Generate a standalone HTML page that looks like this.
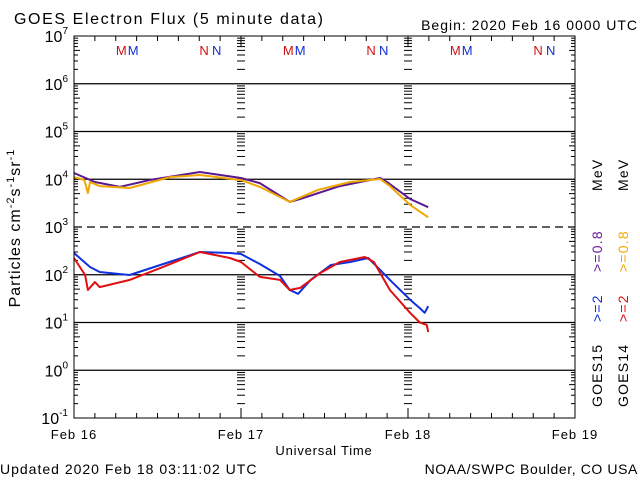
<!DOCTYPE html>
<html><head><meta charset="utf-8"><style>
body{margin:0;background:#fff}
svg{display:block;font-family:"Liberation Sans",sans-serif}
</style></head><body>
<svg id="chart" width="640" height="480">
<text x="14" y="24" font-size="16" letter-spacing="1.6">GOES Electron Flux (5 minute data)</text>
<text x="638" y="30" font-size="14" letter-spacing="1" text-anchor="end">Begin: 2020 Feb 16 0000 UTC</text>
<text x="0" y="474" font-size="14" letter-spacing="1">Updated 2020 Feb 18 03:11:02 UTC</text>
<text x="638" y="474" font-size="14" letter-spacing="0.6" text-anchor="end">NOAA/SWPC Boulder, CO USA</text>
<text x="324" y="455" font-size="13" letter-spacing="0.8" text-anchor="middle">Universal Time</text>
<text transform="translate(20,228) rotate(-90)" font-size="16" letter-spacing="1" text-anchor="middle">Particles cm<tspan font-size="11" dy="-6">-2</tspan><tspan dy="6">s</tspan><tspan font-size="11" dy="-6">-1</tspan><tspan dy="6">sr</tspan><tspan font-size="11" dy="-6">-1</tspan></text>
<g id="grid"></g><g id="ticks"></g><g id="series"></g><g id="labels"></g>
<rect x="74" y="36" width="501" height="382" fill="none" stroke="#000" stroke-width="1"/>
<g font-size="14" letter-spacing="1.2">
<text transform="translate(602,407) rotate(-90)">GOES15</text>
<text transform="translate(602,322) rotate(-90)" fill="#1030d0">&gt;=2</text>
<text transform="translate(602,272) rotate(-90)" fill="#6a1b9a">&gt;=0.8</text>
<text transform="translate(602,191) rotate(-90)">MeV</text>
<text transform="translate(628,407) rotate(-90)">GOES14</text>
<text transform="translate(628,322) rotate(-90)" fill="#e01010">&gt;=2</text>
<text transform="translate(628,272) rotate(-90)" fill="#f0a800">&gt;=0.8</text>
<text transform="translate(628,191) rotate(-90)">MeV</text>
</g>
</svg>
<script>
const dayLabels=["Feb 16","Feb 17","Feb 18","Feb 19"];
const decades=[7,6,5,4,3,2,1,0,-1];
const p15h=[0,3,6.6,10.9,18.1,24,26.7,31,32.5,38.2,44,45,48.3,50.9];
const p15v=[13500,8750,6900,9650,14200,10600,8300,3350,3850,7200,10600,8700,3850,2600];
const p14h=[0,1.5,2,2.3,3.7,8,13.8,18.1,24,26.7,31,35.1,39.7,44,45.4,48.3,50.9];
const p14v=[11100,9600,5150,8700,7200,6550,11100,12300,9600,6900,3350,6000,8750,10100,7200,2900,1600];
const e15h=[0,2.3,3.7,8,12.4,18.1,22.4,24,26.7,29.6,31,32.2,34,36.9,39.7,42.3,44,45.4,48.3,49.7,50.4,50.9];
const e15v=[285,145,114,99,160,300,285,272,168,94,48,40,78,160,185,224,126,78,30,20,16,22];
const e14h=[0,1.6,2,3,3.7,8,12.4,18.1,22.4,24,26.7,29.6,31,32.5,35.4,38.2,41.8,43.1,45.4,48.3,49.7,50.7,50.9];
const e14v=[224,99,48,70,55,78,138,300,224,185,90,78,48,53,109,185,235,185,48,16,10,8.9,6.3];
const NS="http://www.w3.org/2000/svg";
const X0=74,X1=575,Y0=36,Y1=418;
const xs=h=>X0+(X1-X0)*h/72;
const ys=v=>Y0+(7-Math.log10(v))*(Y1-Y0)/8;
function mk(tag,attrs,parent){const e=document.createElementNS(NS,tag);for(const k in attrs)e.setAttribute(k,attrs[k]);document.getElementById(parent).appendChild(e);return e;}
decades.forEach(d=>{
  if(d===7||d===-1)return;
  const y=ys(Math.pow(10,d));
  const l=mk('line',{x1:X0,x2:X1,y1:y,y2:y,stroke:'#000','stroke-width':1.3},'grid');
  if(d===3)l.setAttribute('stroke-dasharray','8,5');
  
  
});
decades.forEach(d=>{
  const t=mk('text',{x:X0-6,y:ys(Math.pow(10,d))+6,'font-size':16,'text-anchor':'end'},'labels');
  t.innerHTML='10<tspan font-size="10" dy="-8">'+d+'</tspan>';
  
  
});
const cols=[[X0,1],[xs(24),2],[xs(48),2],[X1,-1]];
for(let d=-1;d<7;d++){for(let m=1;m<10;m++){
  const y=ys(m*Math.pow(10,d));
  cols.forEach(([x,dir])=>{
    const len=m===1?0:(m===5?6:4);
    if(!len)return;
    let x1=x,x2=x+len*(dir>0?1:-1);
    if(dir===2){x1=x-4;x2=x+4;}
    const l=mk('line',{x1:x1,x2:x2,y1:y,y2:y,stroke:'#000'},'ticks');
    
    
  });
}}
for(let h=0;h<=72;h+=3){
  const x=xs(h),len=(h%24===0)?10:5;
  [[Y0,Y0+len],[Y1,Y1-len]].forEach(([a,b])=>{
    const l=mk('line',{x1:x,x2:x,y1:a,y2:b,stroke:'#000'},'ticks');
    
    
  });
}
dayLabels.forEach((s,i)=>{
  const t=mk('text',{x:xs(i*24),y:439,'font-size':13,'letter-spacing':1,'text-anchor':'middle'},'labels');
  t.textContent=s;
  
  
});
for(let day=0;day<3;day++){
  [[6.8,"M","#d01010"],[8.5,"M","#1030d0"],[18.7,"N","#d01010"],[20.5,"N","#1030d0"]].forEach(([h,c,col])=>{
    const t=mk('text',{x:xs(day*24+h),y:55,'font-size':13,'text-anchor':'middle',fill:col},'labels');
    t.textContent=c;
    
    
  });
}
function series(hs,vs,col,name){
  const pts=hs.map((h,i)=>xs(h).toFixed(1)+','+ys(vs[i]).toFixed(1)).join(' ');
  const p=mk('polyline',{points:pts,fill:'none',stroke:col,'stroke-width':2,'stroke-linejoin':'round'},'series');
  
  
}
series(p15h,p15v,'#5b1a8f','series-goes15-08mev');
series(p14h,p14v,'#f0a800','series-goes14-08mev');
series(e15h,e15v,'#1030e0','series-goes15-2mev');
series(e14h,e14v,'#e01010','series-goes14-2mev');
</script>
</body></html>
